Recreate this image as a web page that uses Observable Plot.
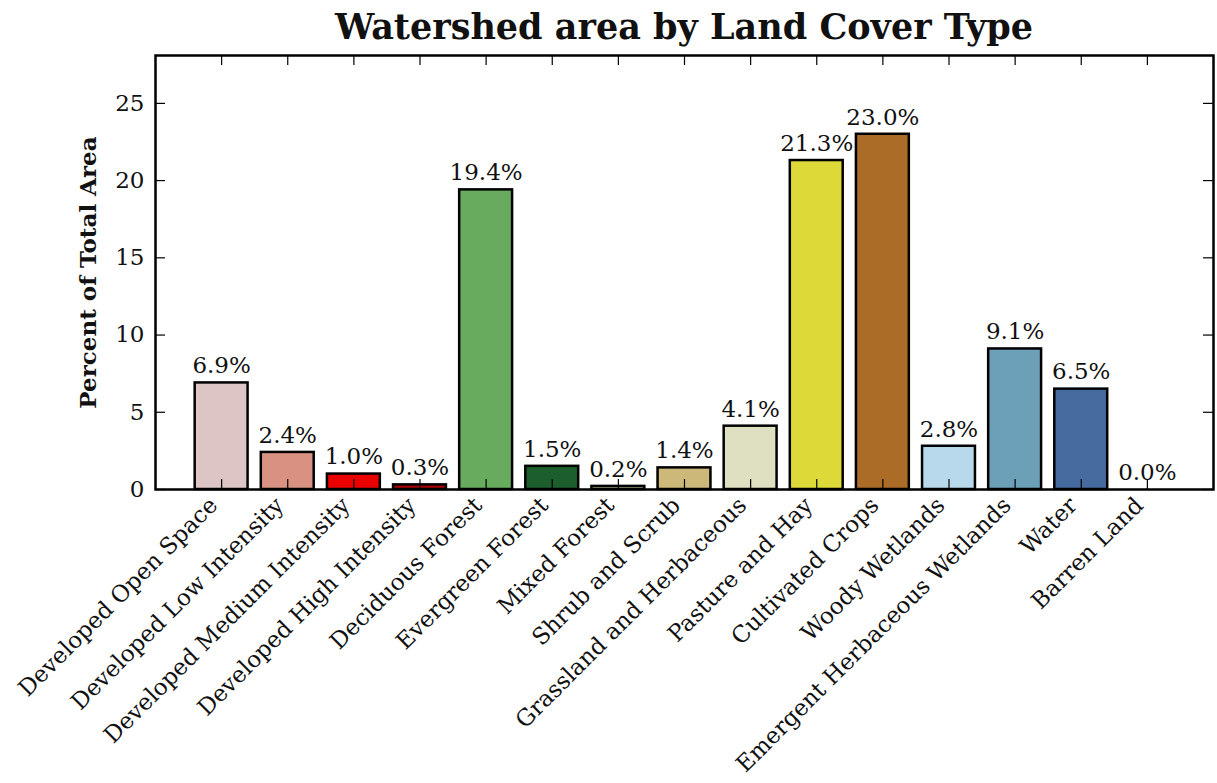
<!DOCTYPE html>
<html>
<head>
<meta charset="utf-8">
<script src="https://cdn.jsdelivr.net/npm/d3@7"></script>
<script src="https://cdn.jsdelivr.net/npm/@observablehq/plot@0.6"></script>
<style>
  html, body { margin: 0; padding: 0; background: white; overflow: hidden; }
  #wrap { position: relative; width: 1217px; height: 783px; }
  #title { position: absolute; left: 155px; width: 1058px; top: 0; height: 50px; line-height: 54px;
           text-align: center; font-family: "DejaVu Serif", serif; font-weight: bold; font-size: 35px; color: #111; }
  #chart { position: absolute; left: 0; top: 50px; }
  #chart [aria-label="y-axis label"] text, #chart [aria-label="y-axis label"] { font-weight: bold; }
</style>
</head>
<body>
<div id="wrap">
  <div id="title">Watershed area by Land Cover Type</div>
  <div id="chart"></div>
</div>
<script>
const categories = [
  "Developed Open Space", "Developed Low Intensity", "Developed Medium Intensity",
  "Developed High Intensity", "Deciduous Forest", "Evergreen Forest", "Mixed Forest",
  "Shrub and Scrub", "Grassland and Herbaceous", "Pasture and Hay", "Cultivated Crops",
  "Woody Wetlands", "Emergent Herbaceous Wetlands", "Water", "Barren Land"
];
const percents = [6.9, 2.4, 1.0, 0.3, 19.4, 1.5, 0.2, 1.4, 4.1, 21.3, 23.0, 2.8, 9.1, 6.5, 0.0];
const colors = [
  "#dec5c5", "#d99282", "#eb0000", "#ab0000", "#68ab5f", "#1c5f2c", "#b5c58f",
  "#ccb879", "#dfdfc2", "#dcd939", "#ab6c28", "#b8d9eb", "#6c9fb8", "#466b9f", "#b3ac9f"
];
const yTicks = [0, 5, 10, 15, 20, 25];

const data = categories.map((c, i) => ({i, name: c, value: percents[i], color: colors[i]}));
const idx = data.map(d => d.i);
const barHalf = 0.4;

const W = 1217, H = 733, mT = 5, mB = 294, mL = 155, mR = 4;
const frameH = H - mT - mB, frameW = W - mL - mR;
const tick = 10;
const fs = 23;

const chart = Plot.plot({
  width: W, height: H,
  marginTop: mT, marginBottom: mB, marginLeft: mL, marginRight: mR,
  x: {domain: [-1, 15], axis: null},
  y: {domain: [0, 28.1], axis: null},
  style: {fontFamily: "DejaVu Serif", fontSize: fs + "px", color: "#111", background: "white"},
  marks: [
    Plot.rectY(data, {x1: d => d.i - barHalf, x2: d => d.i + barHalf, y: "value", fill: "color", stroke: "black", strokeWidth: 2.5}),
    Plot.text(data, {x: "i", y: "value", text: d => d.value.toFixed(1) + "%", dy: -17, fontSize: fs, fill: "#111"}),
    // inward ticks
    Plot.tickX(idx, {x: d => d, insetTop: frameH - tick, stroke: "black", strokeWidth: 1.2}),
    Plot.tickX(idx, {x: d => d, insetBottom: frameH - tick, stroke: "black", strokeWidth: 1.2}),
    Plot.tickY(yTicks, {y: d => d, insetRight: frameW - tick, stroke: "black", strokeWidth: 1.2}),
    Plot.tickY(yTicks, {y: d => d, insetLeft: frameW - tick, stroke: "black", strokeWidth: 1.2}),
    Plot.axisY(yTicks, {anchor: "left", tickSize: 0, tickPadding: 11, fontSize: fs,
      label: "Percent of Total Area", labelAnchor: "center", labelArrow: "none", labelOffset: 76}),
    Plot.axisX(idx, {anchor: "bottom", tickSize: 0, tickPadding: 12, tickRotate: -45, fontSize: fs,
      dx: -8, tickFormat: i => categories[i], label: null}),
    Plot.frame({stroke: "black", strokeWidth: 2.5})
  ]
});
document.getElementById("chart").appendChild(chart);
</script>
</body>
</html>
